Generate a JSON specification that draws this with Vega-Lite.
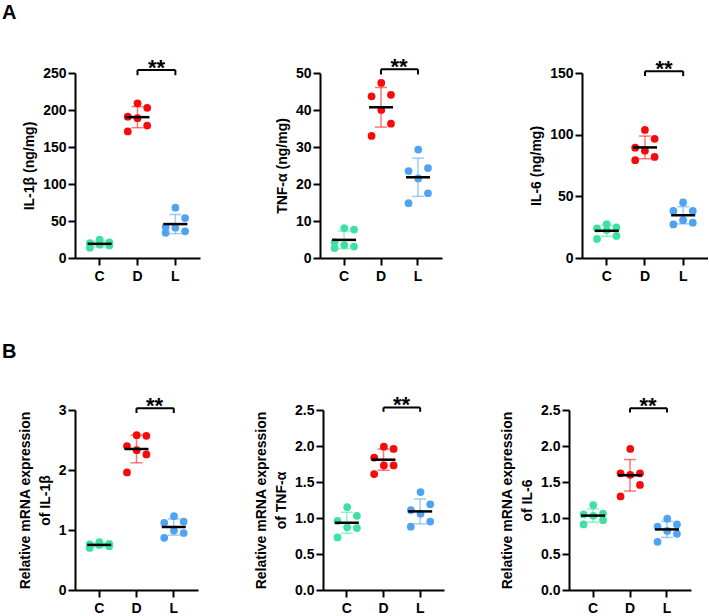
{
  "$schema": "https://vega.github.io/schema/vega-lite/v6.json",
  "padding": {"left": 2, "top": 3, "right": 0, "bottom": 0},
  "datasets": {
    "v": [
      {"panel": "A1", "group": "C", "value": 25}, {"panel": "A1", "group": "C", "value": 21}, {"panel": "A1", "group": "C", "value": 20}, {"panel": "A1", "group": "C", "value": 18}, {"panel": "A1", "group": "C", "value": 17}, {"panel": "A1", "group": "C", "value": 14},
      {"panel": "A1", "group": "D", "value": 209}, {"panel": "A1", "group": "D", "value": 203}, {"panel": "A1", "group": "D", "value": 191}, {"panel": "A1", "group": "D", "value": 189}, {"panel": "A1", "group": "D", "value": 179}, {"panel": "A1", "group": "D", "value": 171},
      {"panel": "A1", "group": "L", "value": 68}, {"panel": "A1", "group": "L", "value": 54}, {"panel": "A1", "group": "L", "value": 42}, {"panel": "A1", "group": "L", "value": 41}, {"panel": "A1", "group": "L", "value": 36}, {"panel": "A1", "group": "L", "value": 34},
      {"panel": "A2", "group": "C", "value": 8.1}, {"panel": "A2", "group": "C", "value": 7.7}, {"panel": "A2", "group": "C", "value": 4.3}, {"panel": "A2", "group": "C", "value": 3.5}, {"panel": "A2", "group": "C", "value": 3.1}, {"panel": "A2", "group": "C", "value": 2.7},
      {"panel": "A2", "group": "D", "value": 47.3}, {"panel": "A2", "group": "D", "value": 44.1}, {"panel": "A2", "group": "D", "value": 43.7}, {"panel": "A2", "group": "D", "value": 40.0}, {"panel": "A2", "group": "D", "value": 36.3}, {"panel": "A2", "group": "D", "value": 33.0},
      {"panel": "A2", "group": "L", "value": 29.3}, {"panel": "A2", "group": "L", "value": 24.3}, {"panel": "A2", "group": "L", "value": 23.5}, {"panel": "A2", "group": "L", "value": 21.5}, {"panel": "A2", "group": "L", "value": 17.5}, {"panel": "A2", "group": "L", "value": 14.8},
      {"panel": "A3", "group": "C", "value": 27.5}, {"panel": "A3", "group": "C", "value": 24.8}, {"panel": "A3", "group": "C", "value": 24.0}, {"panel": "A3", "group": "C", "value": 22.7}, {"panel": "A3", "group": "C", "value": 17.9}, {"panel": "A3", "group": "C", "value": 15.5},
      {"panel": "A3", "group": "D", "value": 103.8}, {"panel": "A3", "group": "D", "value": 96.6}, {"panel": "A3", "group": "D", "value": 89.4}, {"panel": "A3", "group": "D", "value": 87.0}, {"panel": "A3", "group": "D", "value": 81.9}, {"panel": "A3", "group": "D", "value": 79.3},
      {"panel": "A3", "group": "L", "value": 45.1}, {"panel": "A3", "group": "L", "value": 38.2}, {"panel": "A3", "group": "L", "value": 38.2}, {"panel": "A3", "group": "L", "value": 30.7}, {"panel": "A3", "group": "L", "value": 28.6}, {"panel": "A3", "group": "L", "value": 27.2},
      {"panel": "B1", "group": "C", "value": 0.80}, {"panel": "B1", "group": "C", "value": 0.77}, {"panel": "B1", "group": "C", "value": 0.76}, {"panel": "B1", "group": "C", "value": 0.75}, {"panel": "B1", "group": "C", "value": 0.73}, {"panel": "B1", "group": "C", "value": 0.70},
      {"panel": "B1", "group": "D", "value": 2.58}, {"panel": "B1", "group": "D", "value": 2.57}, {"panel": "B1", "group": "D", "value": 2.40}, {"panel": "B1", "group": "D", "value": 2.33}, {"panel": "B1", "group": "D", "value": 2.26}, {"panel": "B1", "group": "D", "value": 1.96},
      {"panel": "B1", "group": "L", "value": 1.23}, {"panel": "B1", "group": "L", "value": 1.14}, {"panel": "B1", "group": "L", "value": 1.12}, {"panel": "B1", "group": "L", "value": 0.99}, {"panel": "B1", "group": "L", "value": 0.95}, {"panel": "B1", "group": "L", "value": 0.87},
      {"panel": "B2", "group": "C", "value": 1.15}, {"panel": "B2", "group": "C", "value": 1.03}, {"panel": "B2", "group": "C", "value": 0.96}, {"panel": "B2", "group": "C", "value": 0.87}, {"panel": "B2", "group": "C", "value": 0.86}, {"panel": "B2", "group": "C", "value": 0.73},
      {"panel": "B2", "group": "D", "value": 1.99}, {"panel": "B2", "group": "D", "value": 1.96}, {"panel": "B2", "group": "D", "value": 1.84}, {"panel": "B2", "group": "D", "value": 1.73}, {"panel": "B2", "group": "D", "value": 1.73}, {"panel": "B2", "group": "D", "value": 1.61},
      {"panel": "B2", "group": "L", "value": 1.36}, {"panel": "B2", "group": "L", "value": 1.19}, {"panel": "B2", "group": "L", "value": 1.11}, {"panel": "B2", "group": "L", "value": 1.06}, {"panel": "B2", "group": "L", "value": 0.95}, {"panel": "B2", "group": "L", "value": 0.88},
      {"panel": "B3", "group": "C", "value": 1.18}, {"panel": "B3", "group": "C", "value": 1.06}, {"panel": "B3", "group": "C", "value": 1.05}, {"panel": "B3", "group": "C", "value": 1.03}, {"panel": "B3", "group": "C", "value": 0.97}, {"panel": "B3", "group": "C", "value": 0.91},
      {"panel": "B3", "group": "D", "value": 1.96}, {"panel": "B3", "group": "D", "value": 1.62}, {"panel": "B3", "group": "D", "value": 1.62}, {"panel": "B3", "group": "D", "value": 1.60}, {"panel": "B3", "group": "D", "value": 1.46}, {"panel": "B3", "group": "D", "value": 1.30},
      {"panel": "B3", "group": "L", "value": 0.99}, {"panel": "B3", "group": "L", "value": 0.91}, {"panel": "B3", "group": "L", "value": 0.88}, {"panel": "B3", "group": "L", "value": 0.82}, {"panel": "B3", "group": "L", "value": 0.78}, {"panel": "B3", "group": "L", "value": 0.67}
    ]
  },
  "vconcat": [
    {
      "title": {"text": "A", "dx": -73, "offset": 33, "frame": "group"},
      "spacing": 75,
      "hconcat": [
        {
          "width": 125, "height": 185,
          "layer": [
            {"data": {"name": "v"}, "transform": [{"filter": "datum.panel === 'A1'"}],
             "mark": {"type": "errorbar", "extent": "stdev", "thickness": 1.5, "ticks": {"size": 12, "opacity": 0.55}, "rule": {"opacity": 0.55}},
             "encoding": {
               "x": {"field": "group", "type": "nominal", "scale": {"domain": ["C", "D", "L"], "paddingInner": 0.4, "paddingOuter": 0.35}, "axis": {"title": null, "labelAngle": 0}},
               "y": {"field": "value", "type": "quantitative", "title": "IL-1β (ng/mg)"},
               "color": {"field": "group", "type": "nominal", "scale": {"domain": ["C", "D", "L"], "range": ["#3DE2A2", "#F90A0A", "#4FA3F3"]}, "legend": null}}},
            {"data": {"name": "v"}, "transform": [{"filter": "datum.panel === 'A1'"}, {"window": [{"op": "row_number", "as": "rn"}], "groupby": ["group"], "sort": [{"field": "value", "order": "descending"}]}, {"calculate": "[0,1,-1][(datum.rn-1)%3]", "as": "jit"}],
             "mark": {"type": "circle", "size": 60, "opacity": 1},
             "encoding": {"x": {"field": "group", "type": "nominal"}, "xOffset": {"field": "jit", "type": "quantitative", "scale": {"domain": [-1.17, 1.17]}},
               "y": {"field": "value", "type": "quantitative", "title": "IL-1β (ng/mg)", "scale": {"domain": [0, 250], "nice": false}, "axis": {"title": "IL-1β (ng/mg)", "values": [0, 50, 100, 150, 200, 250], "format": "d", "labelOverlap": false, "tickCount": 6}},
               "color": {"field": "group", "type": "nominal", "legend": null}}},
            {"data": {"name": "v"}, "transform": [{"filter": "datum.panel === 'A1'"}],
             "mark": {"type": "tick", "color": "black", "size": 24, "thickness": 2.5},
             "encoding": {"x": {"field": "group", "type": "nominal"}, "y": {"aggregate": "mean", "field": "value", "type": "quantitative", "title": "IL-1β (ng/mg)"}}},
            {"data": {"values": [{"from": "D", "to": "L"}]}, "mark": {"type": "rule", "color": "black", "strokeWidth": 2},
             "encoding": {"x": {"field": "from", "type": "nominal"}, "x2": {"field": "to"}, "y": {"datum": 254}}},
            {"data": {"values": [{"end": "D"}, {"end": "L"}]}, "mark": {"type": "rule", "color": "black", "strokeWidth": 2},
             "encoding": {"x": {"field": "end", "type": "nominal"}, "y": {"datum": 254}, "y2": {"datum": 247}}},
            {"data": {"values": [{"from": "D", "label": "**"}]}, "mark": {"type": "text", "fontSize": 22, "fontWeight": "bold", "dx": 19, "dy": 5, "baseline": "alphabetic", "color": "black"},
             "encoding": {"x": {"field": "from", "type": "nominal"}, "y": {"datum": 254}, "text": {"field": "label"}}}
          ]
        },
        {
          "spacing": 87,
          "hconcat": [
            {
              "width": 122, "height": 185,
              "layer": [
                {"data": {"name": "v"}, "transform": [{"filter": "datum.panel === 'A2'"}],
                 "mark": {"type": "errorbar", "extent": "stdev", "thickness": 1.5, "ticks": {"size": 12, "opacity": 0.55}, "rule": {"opacity": 0.55}},
                 "encoding": {
                   "x": {"field": "group", "type": "nominal", "scale": {"domain": ["C", "D", "L"], "paddingInner": 0.4, "paddingOuter": 0.35}, "axis": {"title": null, "labelAngle": 0}},
                   "y": {"field": "value", "type": "quantitative", "title": "TNF-α (ng/mg)"},
                   "color": {"field": "group", "type": "nominal", "scale": {"domain": ["C", "D", "L"], "range": ["#3DE2A2", "#F90A0A", "#4FA3F3"]}, "legend": null}}},
                {"data": {"name": "v"}, "transform": [{"filter": "datum.panel === 'A2'"}, {"window": [{"op": "row_number", "as": "rn"}], "groupby": ["group"], "sort": [{"field": "value", "order": "descending"}]}, {"calculate": "[0,1,-1][(datum.rn-1)%3]", "as": "jit"}],
                 "mark": {"type": "circle", "size": 60, "opacity": 1},
                 "encoding": {"x": {"field": "group", "type": "nominal"}, "xOffset": {"field": "jit", "type": "quantitative", "scale": {"domain": [-1.17, 1.17]}},
                   "y": {"field": "value", "type": "quantitative", "title": "TNF-α (ng/mg)", "scale": {"domain": [0, 50], "nice": false}, "axis": {"title": "TNF-α (ng/mg)", "values": [0, 10, 20, 30, 40, 50], "format": "d", "labelOverlap": false, "tickCount": 6}},
                   "color": {"field": "group", "type": "nominal", "legend": null}}},
                {"data": {"name": "v"}, "transform": [{"filter": "datum.panel === 'A2'"}],
                 "mark": {"type": "tick", "color": "black", "size": 24, "thickness": 2.5},
                 "encoding": {"x": {"field": "group", "type": "nominal"}, "y": {"aggregate": "mean", "field": "value", "type": "quantitative", "title": "TNF-α (ng/mg)"}}},
                {"data": {"values": [{"from": "D", "to": "L"}]}, "mark": {"type": "rule", "color": "black", "strokeWidth": 2},
                 "encoding": {"x": {"field": "from", "type": "nominal"}, "x2": {"field": "to"}, "y": {"datum": 51}}},
                {"data": {"values": [{"end": "D"}, {"end": "L"}]}, "mark": {"type": "rule", "color": "black", "strokeWidth": 2},
                 "encoding": {"x": {"field": "end", "type": "nominal"}, "y": {"datum": 51}, "y2": {"datum": 49.6}}},
                {"data": {"values": [{"from": "D", "label": "**"}]}, "mark": {"type": "text", "fontSize": 22, "fontWeight": "bold", "dx": 18, "dy": 5, "baseline": "alphabetic", "color": "black"},
                 "encoding": {"x": {"field": "from", "type": "nominal"}, "y": {"datum": 51}, "text": {"field": "label"}}}
              ]
            },
            {
              "width": 126, "height": 185,
              "layer": [
                {"data": {"name": "v"}, "transform": [{"filter": "datum.panel === 'A3'"}],
                 "mark": {"type": "errorbar", "extent": "stdev", "thickness": 1.5, "ticks": {"size": 12, "opacity": 0.55}, "rule": {"opacity": 0.55}},
                 "encoding": {
                   "x": {"field": "group", "type": "nominal", "scale": {"domain": ["C", "D", "L"], "paddingInner": 0.4, "paddingOuter": 0.35}, "axis": {"title": null, "labelAngle": 0}},
                   "y": {"field": "value", "type": "quantitative", "title": "IL-6 (ng/mg)"},
                   "color": {"field": "group", "type": "nominal", "scale": {"domain": ["C", "D", "L"], "range": ["#3DE2A2", "#F90A0A", "#4FA3F3"]}, "legend": null}}},
                {"data": {"name": "v"}, "transform": [{"filter": "datum.panel === 'A3'"}, {"window": [{"op": "row_number", "as": "rn"}], "groupby": ["group"], "sort": [{"field": "value", "order": "descending"}]}, {"calculate": "[0,1,-1][(datum.rn-1)%3]", "as": "jit"}],
                 "mark": {"type": "circle", "size": 60, "opacity": 1},
                 "encoding": {"x": {"field": "group", "type": "nominal"}, "xOffset": {"field": "jit", "type": "quantitative", "scale": {"domain": [-1.17, 1.17]}},
                   "y": {"field": "value", "type": "quantitative", "title": "IL-6 (ng/mg)", "scale": {"domain": [0, 150], "nice": false}, "axis": {"title": "IL-6 (ng/mg)", "values": [0, 50, 100, 150], "format": "d", "labelOverlap": false, "tickCount": 4}},
                   "color": {"field": "group", "type": "nominal", "legend": null}}},
                {"data": {"name": "v"}, "transform": [{"filter": "datum.panel === 'A3'"}],
                 "mark": {"type": "tick", "color": "black", "size": 24, "thickness": 2.5},
                 "encoding": {"x": {"field": "group", "type": "nominal"}, "y": {"aggregate": "mean", "field": "value", "type": "quantitative", "title": "IL-6 (ng/mg)"}}},
                {"data": {"values": [{"from": "D", "to": "L"}]}, "mark": {"type": "rule", "color": "black", "strokeWidth": 2},
                 "encoding": {"x": {"field": "from", "type": "nominal"}, "x2": {"field": "to"}, "y": {"datum": 151.5}}},
                {"data": {"values": [{"end": "D"}, {"end": "L"}]}, "mark": {"type": "rule", "color": "black", "strokeWidth": 2},
                 "encoding": {"x": {"field": "end", "type": "nominal"}, "y": {"datum": 151.5}, "y2": {"datum": 147.5}}},
                {"data": {"values": [{"from": "D", "label": "**"}]}, "mark": {"type": "text", "fontSize": 22, "fontWeight": "bold", "dx": 19, "dy": 5, "baseline": "alphabetic", "color": "black"},
                 "encoding": {"x": {"field": "from", "type": "nominal"}, "y": {"datum": 151.5}, "text": {"field": "label"}}}
              ]
            }
          ]
        }
      ]
    },
    {
      "title": {"text": "B", "dx": -73, "offset": 32, "frame": "group"},
      "spacing": 56,
      "hconcat": [
        {
          "width": 123, "height": 180,
          "layer": [
            {"data": {"name": "v"}, "transform": [{"filter": "datum.panel === 'B1'"}],
             "mark": {"type": "errorbar", "extent": "stdev", "thickness": 1.5, "ticks": {"size": 12, "opacity": 0.55}, "rule": {"opacity": 0.55}},
             "encoding": {
               "x": {"field": "group", "type": "nominal", "scale": {"domain": ["C", "D", "L"], "paddingInner": 0.4, "paddingOuter": 0.35}, "axis": {"title": null, "labelAngle": 0}},
               "y": {"field": "value", "type": "quantitative", "title": ["Relative mRNA expression", "of  IL-1β"]},
               "color": {"field": "group", "type": "nominal", "scale": {"domain": ["C", "D", "L"], "range": ["#3DE2A2", "#F90A0A", "#4FA3F3"]}, "legend": null}}},
            {"data": {"name": "v"}, "transform": [{"filter": "datum.panel === 'B1'"}, {"window": [{"op": "row_number", "as": "rn"}], "groupby": ["group"], "sort": [{"field": "value", "order": "descending"}]}, {"calculate": "[0,1,-1][(datum.rn-1)%3]", "as": "jit"}],
             "mark": {"type": "circle", "size": 60, "opacity": 1},
             "encoding": {"x": {"field": "group", "type": "nominal"}, "xOffset": {"field": "jit", "type": "quantitative", "scale": {"domain": [-1.17, 1.17]}},
               "y": {"field": "value", "type": "quantitative", "title": ["Relative mRNA expression", "of  IL-1β"], "scale": {"domain": [0, 3], "nice": false}, "axis": {"title": ["Relative mRNA expression", "of  IL-1β"], "values": [0, 1, 2, 3], "format": "d", "labelOverlap": false, "tickCount": 4}},
               "color": {"field": "group", "type": "nominal", "legend": null}}},
            {"data": {"name": "v"}, "transform": [{"filter": "datum.panel === 'B1'"}],
             "mark": {"type": "tick", "color": "black", "size": 24, "thickness": 2.5},
             "encoding": {"x": {"field": "group", "type": "nominal"}, "y": {"aggregate": "mean", "field": "value", "type": "quantitative", "title": ["Relative mRNA expression", "of  IL-1β"]}}},
            {"data": {"values": [{"from": "D", "to": "L"}]}, "mark": {"type": "rule", "color": "black", "strokeWidth": 2},
             "encoding": {"x": {"field": "from", "type": "nominal"}, "x2": {"field": "to"}, "y": {"datum": 3.03}}},
            {"data": {"values": [{"end": "D"}, {"end": "L"}]}, "mark": {"type": "rule", "color": "black", "strokeWidth": 2},
             "encoding": {"x": {"field": "end", "type": "nominal"}, "y": {"datum": 3.03}, "y2": {"datum": 2.95}}},
            {"data": {"values": [{"from": "D", "label": "**"}]}, "mark": {"type": "text", "fontSize": 22, "fontWeight": "bold", "dx": 18, "dy": 5, "baseline": "alphabetic", "color": "black"},
             "encoding": {"x": {"field": "from", "type": "nominal"}, "y": {"datum": 3.03}, "text": {"field": "label"}}}
          ]
        },
        {
          "width": 121, "height": 180,
          "layer": [
            {"data": {"name": "v"}, "transform": [{"filter": "datum.panel === 'B2'"}],
             "mark": {"type": "errorbar", "extent": "stdev", "thickness": 1.5, "ticks": {"size": 12, "opacity": 0.55}, "rule": {"opacity": 0.55}},
             "encoding": {
               "x": {"field": "group", "type": "nominal", "scale": {"domain": ["C", "D", "L"], "paddingInner": 0.4, "paddingOuter": 0.35}, "axis": {"title": null, "labelAngle": 0}},
               "y": {"field": "value", "type": "quantitative", "title": ["Relative mRNA expression", "of  TNF-α"]},
               "color": {"field": "group", "type": "nominal", "scale": {"domain": ["C", "D", "L"], "range": ["#3DE2A2", "#F90A0A", "#4FA3F3"]}, "legend": null}}},
            {"data": {"name": "v"}, "transform": [{"filter": "datum.panel === 'B2'"}, {"window": [{"op": "row_number", "as": "rn"}], "groupby": ["group"], "sort": [{"field": "value", "order": "descending"}]}, {"calculate": "[0,1,-1][(datum.rn-1)%3]", "as": "jit"}],
             "mark": {"type": "circle", "size": 60, "opacity": 1},
             "encoding": {"x": {"field": "group", "type": "nominal"}, "xOffset": {"field": "jit", "type": "quantitative", "scale": {"domain": [-1.17, 1.17]}},
               "y": {"field": "value", "type": "quantitative", "title": ["Relative mRNA expression", "of  TNF-α"], "scale": {"domain": [0, 2.5], "nice": false}, "axis": {"title": ["Relative mRNA expression", "of  TNF-α"], "values": [0, 0.5, 1, 1.5, 2, 2.5], "format": ".1f", "labelOverlap": false, "tickCount": 6}},
               "color": {"field": "group", "type": "nominal", "legend": null}}},
            {"data": {"name": "v"}, "transform": [{"filter": "datum.panel === 'B2'"}],
             "mark": {"type": "tick", "color": "black", "size": 24, "thickness": 2.5},
             "encoding": {"x": {"field": "group", "type": "nominal"}, "y": {"aggregate": "mean", "field": "value", "type": "quantitative", "title": ["Relative mRNA expression", "of  TNF-α"]}}},
            {"data": {"values": [{"from": "D", "to": "L"}]}, "mark": {"type": "rule", "color": "black", "strokeWidth": 2},
             "encoding": {"x": {"field": "from", "type": "nominal"}, "x2": {"field": "to"}, "y": {"datum": 2.535}}},
            {"data": {"values": [{"end": "D"}, {"end": "L"}]}, "mark": {"type": "rule", "color": "black", "strokeWidth": 2},
             "encoding": {"x": {"field": "end", "type": "nominal"}, "y": {"datum": 2.535}, "y2": {"datum": 2.475}}},
            {"data": {"values": [{"from": "D", "label": "**"}]}, "mark": {"type": "text", "fontSize": 22, "fontWeight": "bold", "dx": 18, "dy": 5, "baseline": "alphabetic", "color": "black"},
             "encoding": {"x": {"field": "from", "type": "nominal"}, "y": {"datum": 2.535}, "text": {"field": "label"}}}
          ]
        },
        {
          "width": 122, "height": 180,
          "layer": [
            {"data": {"name": "v"}, "transform": [{"filter": "datum.panel === 'B3'"}],
             "mark": {"type": "errorbar", "extent": "stdev", "thickness": 1.5, "ticks": {"size": 12, "opacity": 0.55}, "rule": {"opacity": 0.55}},
             "encoding": {
               "x": {"field": "group", "type": "nominal", "scale": {"domain": ["C", "D", "L"], "paddingInner": 0.4, "paddingOuter": 0.35}, "axis": {"title": null, "labelAngle": 0}},
               "y": {"field": "value", "type": "quantitative", "title": ["Relative mRNA expression", "of IL-6"]},
               "color": {"field": "group", "type": "nominal", "scale": {"domain": ["C", "D", "L"], "range": ["#3DE2A2", "#F90A0A", "#4FA3F3"]}, "legend": null}}},
            {"data": {"name": "v"}, "transform": [{"filter": "datum.panel === 'B3'"}, {"window": [{"op": "row_number", "as": "rn"}], "groupby": ["group"], "sort": [{"field": "value", "order": "descending"}]}, {"calculate": "[0,1,-1][(datum.rn-1)%3]", "as": "jit"}],
             "mark": {"type": "circle", "size": 60, "opacity": 1},
             "encoding": {"x": {"field": "group", "type": "nominal"}, "xOffset": {"field": "jit", "type": "quantitative", "scale": {"domain": [-1.17, 1.17]}},
               "y": {"field": "value", "type": "quantitative", "title": ["Relative mRNA expression", "of IL-6"], "scale": {"domain": [0, 2.5], "nice": false}, "axis": {"title": ["Relative mRNA expression", "of IL-6"], "values": [0, 0.5, 1, 1.5, 2, 2.5], "format": ".1f", "labelOverlap": false, "tickCount": 6}},
               "color": {"field": "group", "type": "nominal", "legend": null}}},
            {"data": {"name": "v"}, "transform": [{"filter": "datum.panel === 'B3'"}],
             "mark": {"type": "tick", "color": "black", "size": 24, "thickness": 2.5},
             "encoding": {"x": {"field": "group", "type": "nominal"}, "y": {"aggregate": "mean", "field": "value", "type": "quantitative", "title": ["Relative mRNA expression", "of IL-6"]}}},
            {"data": {"values": [{"from": "D", "to": "L"}]}, "mark": {"type": "rule", "color": "black", "strokeWidth": 2},
             "encoding": {"x": {"field": "from", "type": "nominal"}, "x2": {"field": "to"}, "y": {"datum": 2.525}}},
            {"data": {"values": [{"end": "D"}, {"end": "L"}]}, "mark": {"type": "rule", "color": "black", "strokeWidth": 2},
             "encoding": {"x": {"field": "end", "type": "nominal"}, "y": {"datum": 2.525}, "y2": {"datum": 2.465}}},
            {"data": {"values": [{"from": "D", "label": "**"}]}, "mark": {"type": "text", "fontSize": 22, "fontWeight": "bold", "dx": 18, "dy": 5, "baseline": "alphabetic", "color": "black"},
             "encoding": {"x": {"field": "from", "type": "nominal"}, "y": {"datum": 2.525}, "text": {"field": "label"}}}
          ]
        }
      ]
    }
  ],
  "spacing": 59,
  "config": {
    "view": {"stroke": null},
    "font": "Liberation Sans",
    "axis": {"domainColor": "black", "domainWidth": 2, "tickColor": "black", "tickWidth": 2, "tickSize": 7, "labelFont": "Liberation Sans", "labelFontSize": 14, "labelFontWeight": "bold", "labelColor": "black", "titleFont": "Liberation Sans", "titleFontSize": 14, "titleFontWeight": "bold", "titleColor": "black", "grid": false, "labelOverlap": false},
    "axisX": {"labelPadding": 4},
    "axisY": {"labelPadding": 2, "titlePadding": 6, "titleLineHeight": 20},
    "title": {"font": "Liberation Sans", "fontSize": 20, "fontWeight": "bold", "anchor": "start", "color": "black"}
  }
}
